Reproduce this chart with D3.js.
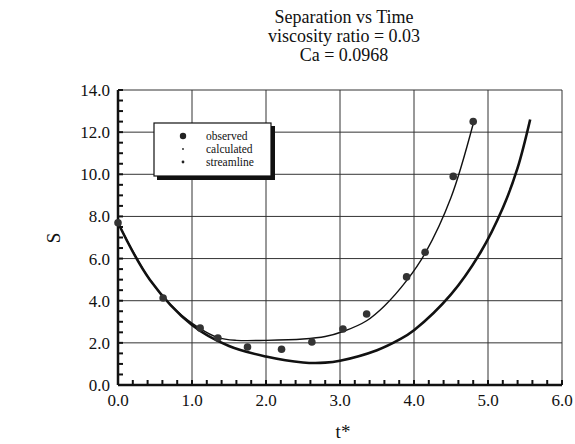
<!DOCTYPE html>
<html>
<head>
<meta charset="utf-8">
<script src="https://cdn.jsdelivr.net/npm/d3@7"></script>
<style>
  body { margin: 0; background: #fff; }
  svg { font-family: "Liberation Serif", "DejaVu Serif", serif; }
</style>
</head>
<body>
<div id="chart"></div>
<script>
// observed separation
var obsT = [0.0, 0.61, 1.11, 1.35, 1.75, 2.21, 2.62, 3.04, 3.36, 3.9, 4.15, 4.53, 4.8];
var obsS = [7.7, 4.13, 2.7, 2.23, 1.8, 1.7, 2.04, 2.66, 3.37, 5.13, 6.3, 9.9, 12.5];

// calculated curve (thin)
var calcT = [0.0, 0.43, 0.8, 1.1, 1.35, 1.6, 2.0, 2.5, 2.8, 3.05, 3.36, 3.6, 3.9, 4.15, 4.5, 4.8];
var calcS = [7.7, 5.0, 3.5, 2.7, 2.25, 2.12, 2.12, 2.18, 2.3, 2.55, 3.05, 3.75, 4.95, 6.25, 8.9, 12.4];

// streamline curve (thick)
var strT = [0.0, 0.43, 1.0, 1.5, 2.0, 2.5, 2.8, 3.0, 3.5, 3.8, 4.0, 4.5, 4.9, 5.2, 5.4, 5.57];
var strS = [7.7, 5.0, 2.85, 1.85, 1.35, 1.07, 1.06, 1.15, 1.65, 2.15, 2.6, 4.3, 6.3, 8.4, 10.3, 12.6];

var xTicks = [0, 1, 2, 3, 4, 5, 6];
var yTicks = [0, 2, 4, 6, 8, 10, 12, 14];
var titleLines = ["Separation vs Time", "viscosity ratio = 0.03", "Ca = 0.0968"];
var legendLabels = ["observed", "calculated", "streamline"];

var width = 575, height = 444;
var margin = {left: 118, right: 13, top: 90, bottom: 59};

var svg = d3.select("#chart").append("svg")
  .attr("width", width)
  .attr("height", height);

var x = d3.scaleLinear().domain([0, 6]).range([margin.left, width - margin.right]);
var y = d3.scaleLinear().domain([0, 14]).range([height - margin.bottom, margin.top]);

// grid
var grid = svg.append("g").attr("stroke", "#333").attr("stroke-width", 1);
grid.selectAll("line.gx").data(xTicks.slice(1)).enter().append("line")
  .attr("x1", d => x(d)).attr("x2", d => x(d))
  .attr("y1", y(0)).attr("y2", y(14));
grid.selectAll("line.gy").data(yTicks.slice(1)).enter().append("line")
  .attr("x1", x(0)).attr("x2", x(6))
  .attr("y1", d => y(d)).attr("y2", d => y(d));

// minor ticks
var minorX = d3.range(0, 6.001, 0.2);
var minorY = d3.range(0, 14.001, 0.5);
svg.append("g").selectAll("line").data(minorX).enter().append("line")
  .attr("x1", d => x(d)).attr("x2", d => x(d))
  .attr("y1", y(0)).attr("y2", y(0) - 5)
  .attr("stroke", "#111").attr("stroke-width", 2);
svg.append("g").selectAll("line").data(minorY).enter().append("line")
  .attr("x1", x(0)).attr("x2", x(0) + 5)
  .attr("y1", d => y(d)).attr("y2", d => y(d))
  .attr("stroke", "#111").attr("stroke-width", 2);

// axes frame
svg.append("line").attr("x1", x(0)).attr("x2", x(6)).attr("y1", y(0)).attr("y2", y(0))
  .attr("stroke", "#111").attr("stroke-width", 2.5);
svg.append("line").attr("x1", x(0)).attr("x2", x(0)).attr("y1", y(0)).attr("y2", y(14))
  .attr("stroke", "#111").attr("stroke-width", 2.5);

// tick labels
svg.append("g").selectAll("text").data(xTicks).enter().append("text")
  .attr("x", d => x(d)).attr("y", y(0) + 21)
  .attr("text-anchor", "middle")
  .attr("font-size", 17).attr("fill", "#111")
  .text(d => d.toFixed(1));
svg.append("g").selectAll("text").data(yTicks).enter().append("text")
  .attr("x", x(0) - 8).attr("y", d => y(d) + 6)
  .attr("text-anchor", "end")
  .attr("font-size", 17).attr("fill", "#111")
  .text(d => d.toFixed(1));

// axis titles
svg.append("text").attr("x", 343).attr("y", 438).attr("text-anchor", "middle")
  .attr("font-size", 19).attr("fill", "#111").text("t*");
svg.append("text").attr("transform", "translate(60,238) rotate(-90)")
  .attr("text-anchor", "middle").attr("font-size", 19).attr("fill", "#111").text("S");

// title
svg.append("g").selectAll("text").data(titleLines).enter().append("text")
  .attr("x", 344).attr("y", (d, i) => 23 + i * 19)
  .attr("text-anchor", "middle").attr("font-size", 18).attr("fill", "#111")
  .text(d => d);

// curves
var line = d3.line()
  .x(d => x(d[0])).y(d => y(d[1]))
  .curve(d3.curveCatmullRom.alpha(0.5));

svg.append("path")
  .datum(d3.zip(strT, strS))
  .attr("d", line)
  .attr("fill", "none").attr("stroke", "#111").attr("stroke-width", 2.6);

svg.append("path")
  .datum(d3.zip(calcT, calcS))
  .attr("d", line)
  .attr("fill", "none").attr("stroke", "#111").attr("stroke-width", 1.4);

// observed points
svg.append("g").selectAll("circle").data(d3.zip(obsT, obsS)).enter().append("circle")
  .attr("cx", d => x(d[0])).attr("cy", d => y(d[1]))
  .attr("r", 3.8).attr("fill", "#333");

// legend
var lg = svg.append("g").attr("transform", "translate(154,123)");
lg.append("rect").attr("x", 3).attr("y", 3).attr("width", 118).attr("height", 54).attr("fill", "#111");
lg.append("rect").attr("x", 0).attr("y", 0).attr("width", 117).attr("height", 53)
  .attr("fill", "#fff").attr("stroke", "#111").attr("stroke-width", 1.2);
var markR = [3.2, 0.9, 1.4];
lg.selectAll("circle").data(legendLabels).enter().append("circle")
  .attr("cx", 29).attr("cy", (d, i) => 13 + i * 13)
  .attr("r", (d, i) => markR[i]).attr("fill", "#222");
lg.selectAll("text").data(legendLabels).enter().append("text")
  .attr("x", 52).attr("y", (d, i) => 17 + i * 13)
  .attr("font-size", 11.5).attr("fill", "#111")
  .text(d => d);
</script>
</body>
</html>
